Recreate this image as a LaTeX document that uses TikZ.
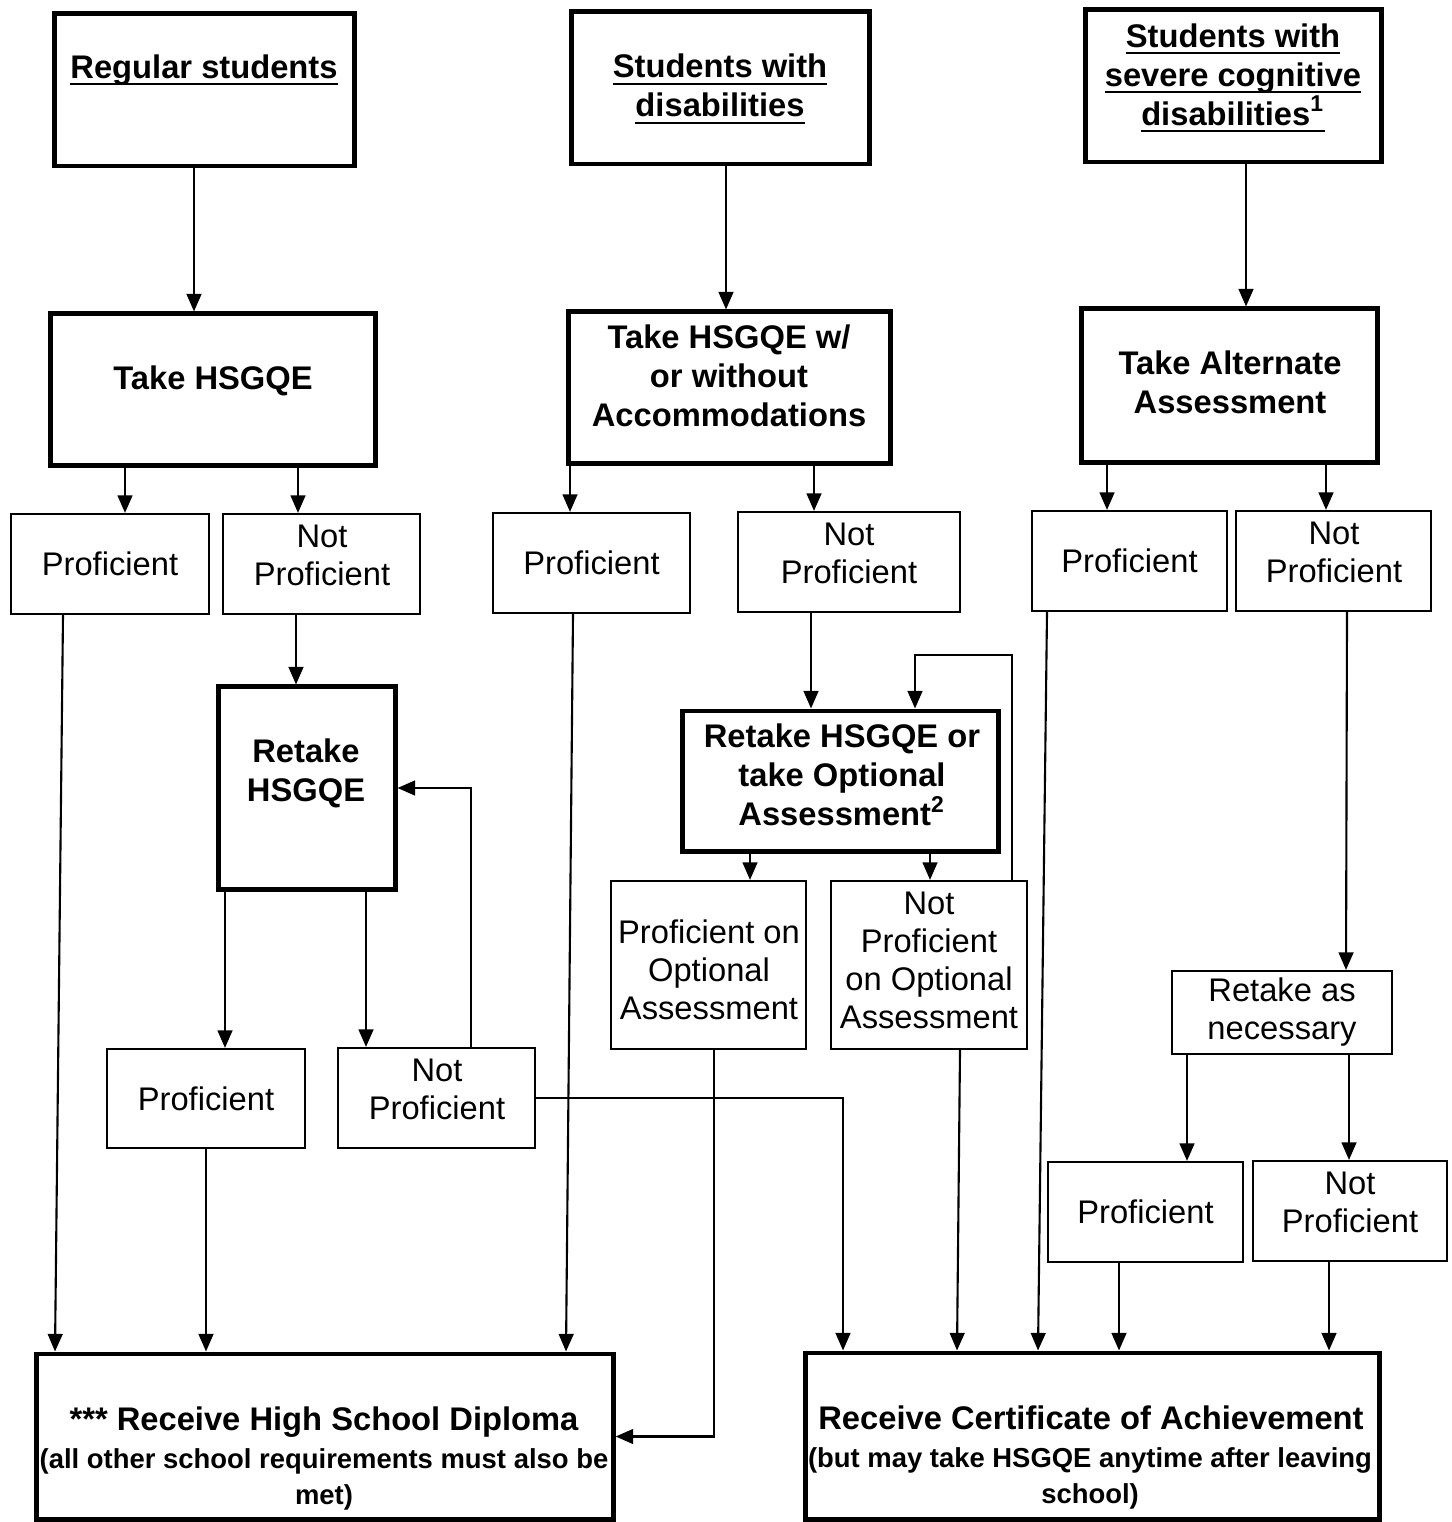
\documentclass[tikz,border=0pt]{standalone}
\usepackage{fontspec}
\setmainfont{Liberation Sans}
\usetikzlibrary{arrows.meta}

% underline at a fixed depth, so that all lines keep the same spacing
\newcommand{\undl}[1]{\setbox0=\hbox{#1}\leavevmode\rlap{\rule[-2pt]{\wd0}{0.6pt}}\box0}

\tikzset{
  >={Triangle[length=5pt,width=4.2pt]},
  hbox/.style={draw, line width=1.4pt, inner sep=0pt},
  rbox/.style={draw, line width=0.6pt, align=center, inner sep=0pt,
    font=\fontsize{9.3}{10.8}\selectfont},
  htxt/.style={align=center, inner sep=0pt, font=\bfseries\fontsize{9.3}{11.1}\selectfont},
  rtxt/.style={align=center, inner sep=0pt, font=\fontsize{9.3}{10.8}\selectfont},
  stxt/.style={align=center, inner sep=0pt, font=\bfseries\fontsize{7.8}{10.2}\selectfont},
}

\begin{document}
\begin{tikzpicture}[x=0.01cm,y=-0.01cm,line width=0.6pt]
\useasboundingbox (0,0) rectangle (1451,1522);

% student groups
\node [hbox, minimum width=2.99cm, minimum height=1.52cm] (rs) at (204.5,90) {};
\node [htxt] (rst) at (204,70) {\undl{Regular students}};
\node [hbox, minimum width=2.97cm, minimum height=1.52cm] (swd) at (720.5,88) {};
\node [htxt] (swdt) at (720,89) {\undl{Students with}\\\undl{disabilities}};
\node [hbox, minimum width=2.95cm, minimum height=1.52cm] (sscd) at (1233.5,86) {};
\node [htxt] (sscdt) at (1233,78) {\undl{Students with}\\\undl{severe cognitive}\\\undl{disabilities\textsuperscript{1}}};

% first tests
\node [hbox, minimum width=3.24cm, minimum height=1.51cm] (th1) at (213,389.5) {};
\node [htxt] (th1t) at (213,381) {Take HSGQE};
\node [hbox, minimum width=3.21cm, minimum height=1.51cm] (th2) at (729.5,387.5) {};
\node [htxt] (th2t) at (729,376) {Take HSGQE w/\\or without\\Accommodations};
\node [hbox, minimum width=2.95cm, minimum height=1.53cm] (th3) at (1229.5,385.5) {};
\node [htxt] (th3t) at (1230,382) {Take Alternate\\Assessment};

% first results
\node [rbox, minimum width=1.98cm, minimum height=1cm] (p1) at (110,564) {Proficient};
\node [rbox, minimum width=1.97cm, minimum height=1cm] (np1) at (321.5,564) {};
\node [rtxt] (np1t) at (322,555) {Not\\Proficient};
\node [rbox, minimum width=1.97cm, minimum height=1cm] (p2) at (591.5,563) {Proficient};
\node [rbox, minimum width=2.22cm, minimum height=1cm] (np2) at (849,562) {};
\node [rtxt] (np2t) at (849,553) {Not\\Proficient};
\node [rbox, minimum width=1.95cm, minimum height=1cm] (p3) at (1129.5,561) {Proficient};
\node [rbox, minimum width=1.95cm, minimum height=1cm] (np3) at (1333.5,561) {};
\node [rtxt] (np3t) at (1334,552) {Not\\Proficient};

% retakes
\node [hbox, minimum width=1.76cm, minimum height=2.02cm] (rt) at (307,788) {};
\node [htxt] (rtt) at (306,773) {Retake\\HSGQE};
\node [hbox, minimum width=3.15cm, minimum height=1.4cm] (rto) at (840.5,781) {};
\node [htxt] (rtot) at (842,775) {Retake HSGQE or\\take Optional\\Assessment\textsuperscript{2}};
\node [rbox, minimum width=2.2cm, minimum height=0.83cm] (ran) at (1282,1012.5) {Retake as\\necessary};

% second results
\node [rbox, minimum width=1.95cm, minimum height=1.68cm] (poa) at (708.5,965) {};
\node [rtxt] (poat) at (709,970) {Proficient on\\Optional\\Assessment};
\node [rbox, minimum width=1.96cm, minimum height=1.68cm] (npoa) at (929,965) {};
\node [rtxt] (npoat) at (929,960) {Not\\Proficient\\on Optional\\Assessment};
\node [rbox, minimum width=1.98cm, minimum height=0.99cm] (p4) at (206,1098.5) {Proficient};
\node [rbox, minimum width=1.97cm, minimum height=1cm] (np4) at (436.5,1098) {};
\node [rtxt] (np4t) at (437,1089) {Not\\Proficient};
\node [rbox, minimum width=1.95cm, minimum height=1cm] (p5) at (1145.5,1212) {Proficient};
\node [rbox, minimum width=1.94cm, minimum height=1cm] (np5) at (1350,1211) {};
\node [rtxt] (np5t) at (1350,1202) {Not\\Proficient};

% outcomes
\node [hbox, minimum width=5.76cm, minimum height=1.65cm] (dip) at (325,1436.5) {};
\node [htxt] (dipt) at (324,1422) {*** Receive High School Diploma};
\node [stxt] (dips) at (324,1479) {(all other school requirements must also be\\met)};
\node [hbox, minimum width=5.73cm, minimum height=1.66cm] (cert) at (1092.5,1436) {};
\node [htxt] (certt) at (1091,1418) {Receive Certificate of Achievement};
\node [stxt] (certs) at (1090,1478) {(but may take HSGQE anytime after leaving\\school)};

% connectors
\draw [->] (rs.south -| 194,0) -- (th1.north -| 194,0);
\draw [->] (swd.south -| 726,0) -- (th2.north -| 726,0);
\draw [->] (sscd.south -| 1246,0) -- (th3.north -| 1246,0);
\draw [->] (th1.south -| 125,0) -- (p1.north -| 125,0);
\draw [->] (th1.south -| 298,0) -- (np1.north -| 298,0);
\draw [->] (th2.south -| 570,0) -- (p2.north -| 570,0);
\draw [->] (th2.south -| 814,0) -- (np2.north -| 814,0);
\draw [->] (th3.south -| 1107,0) -- (p3.north -| 1107,0);
\draw [->] (th3.south -| 1326,0) -- (np3.north -| 1326,0);
\draw [->] (np1.south -| 296,0) -- (rt.north -| 296,0);
\draw [->] (np2.south -| 811,0) -- (rto.north -| 811,0);
\draw [->] (np3.south -| 1347,0) -- (ran.north -| 1346,0);
\draw [->] (rt.south -| 225,0) -- (p4.north -| 225,0);
\draw [->] (rt.south -| 366,0) -- (np4.north -| 366,0);
\draw [->] (np4.north -| 471,0) |- (rt.east);
\draw [->] (rto.south -| 750,0) -- (poa.north -| 750,0);
\draw [->] (rto.south -| 930,0) -- (npoa.north -| 930,0);
\draw [->] (npoa.north -| 1012,0) -- (1012,655) -| (rto.north -| 915,0);
\draw [->] (ran.south -| 1187,0) -- (p5.north -| 1187,0);
\draw [->] (ran.south -| 1349,0) -- (np5.north -| 1349,0);
\draw [->] (p1.south -| 63,0) -- (dip.north -| 55,0);
\draw [->] (p4.south) -- (dip.north -| 206,0);
\draw [->] (p2.south -| 573,0) -- (dip.north -| 566,0);
\draw [->] (poa.south -| 714,0) |- (dip.east);
\draw [->] (np4.east) -| (cert.north -| 843,0);
\draw [->] (npoa.south -| 960,0) -- (cert.north -| 957,0);
\draw [->] (p3.south -| 1047,0) -- (cert.north -| 1038,0);
\draw [->] (p5.south -| 1119,0) -- (cert.north -| 1119,0);
\draw [->] (np5.south -| 1329,0) -- (cert.north -| 1329,0);
\end{tikzpicture}
\end{document}
